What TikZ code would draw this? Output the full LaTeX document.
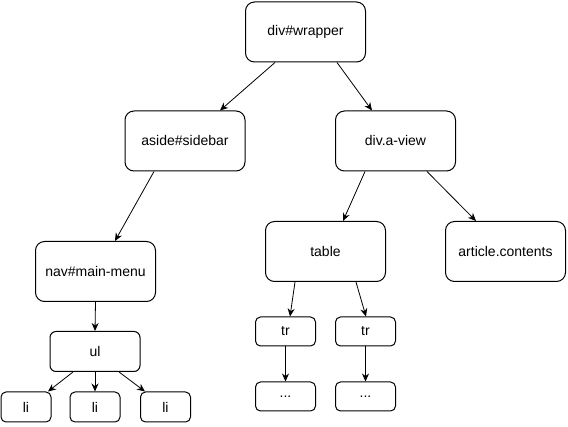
\documentclass[tikz,border=0pt]{standalone}
\usepackage{fontspec}
\setmainfont{Liberation Sans}
\usetikzlibrary{arrows.meta}
\begin{document}
\begin{tikzpicture}[x=1pt,y=-1pt,
  box/.style={draw=black,line width=1pt,fill=white,inner sep=0pt,font=\fontsize{14}{16}\selectfont},
  big/.style={box,minimum width=120pt,minimum height=60pt,rounded corners=9pt},
  mid/.style={box,minimum width=90pt,minimum height=40pt,rounded corners=6pt},
  small/.style={box,minimum width=50pt,minimum height=30pt,rounded corners=5pt},
  smallw/.style={box,minimum width=60pt,minimum height=29pt,rounded corners=5pt},
  conn/.style={draw=black,line width=0.8pt,-{Stealth[length=8pt,width=7pt]}}]
\useasboundingbox (0,0) rectangle (568,427);
\node[big] (wrap) at (305.5,32) {div\#wrapper};
\node[big] (aside) at (185,141) {aside\#sidebar};
\node[big] (aview) at (395.5,141) {div.a-view};
\node[big] (nav) at (95.5,271.5) {nav\#main-menu};
\node[big] (table) at (325.5,251.5) {table};
\node[big] (article) at (505.5,251.5) {article.contents};
\node[mid] (ul) at (95,351.5) {ul};
\node[small] (li1) at (26,407) {li};
\node[small] (li2) at (95,407) {li};
\node[small] (li3) at (165.5,407) {li};
\node[smallw] (tr1) at (285.5,331.5) {tr};
\node[smallw] (tr2) at (365.5,331.5) {tr};
\node[smallw] (d1) at (285.5,396.5) {...};
\node[smallw] (d2) at (365.5,396.5) {...};
\draw[conn] ([xshift=-30.5pt]wrap.south) -- ([xshift=35pt]aside.north);
\draw[conn] ([xshift=31.5pt]wrap.south) -- ([xshift=-23.5pt]aview.north);
\draw[conn] ([xshift=-31pt]aside.south) -- ([xshift=19.5pt]nav.north);
\draw[conn] (nav.south) -- (ul.north);
\draw[conn] ([xshift=-22pt]ul.south) -- ([xshift=22pt]li1.north);
\draw[conn] (ul.south) -- (li2.north);
\draw[conn] ([xshift=24pt]ul.south) -- ([xshift=-20.5pt]li3.north);
\draw[conn] ([xshift=-30.5pt]aview.south) -- ([xshift=17.5pt]table.north);
\draw[conn] ([xshift=31.5pt]aview.south) -- ([xshift=-29.5pt]article.north);
\draw[conn] ([xshift=-30.5pt]table.south) -- ([xshift=4.5pt]tr1.north);
\draw[conn] ([xshift=30.5pt]table.south) -- ([xshift=0.5pt]tr2.north);
\draw[conn] (tr1.south) -- (d1.north);
\draw[conn] (tr2.south) -- (d2.north);
\end{tikzpicture}
\end{document}
